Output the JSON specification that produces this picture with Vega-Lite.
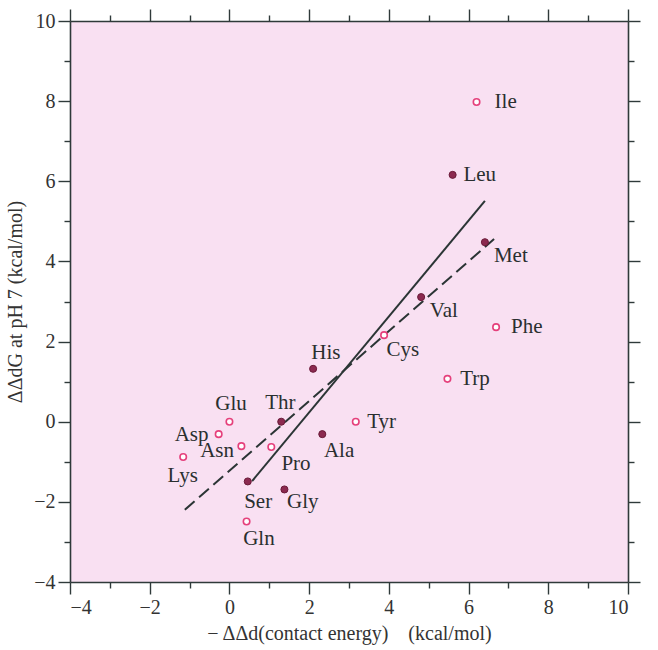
{
  "$schema": "https://vega.github.io/schema/vega-lite/v6.json",
  "autosize": {"type": "none"},
  "width": 558,
  "height": 561,
  "padding": {"left": 70, "top": 21, "right": 30, "bottom": 68},
  "background": "white",
  "config": {
    "view": {"fill": "#f9e0f2", "stroke": null},
    "axis": {
      "domainColor": "#2f3a3a",
      "tickColor": "#2f3a3a",
      "domainWidth": 1.6,
      "tickWidth": 1.4,
      "grid": false,
      "labelFont": "Liberation Serif",
      "labelFontSize": 20,
      "labelColor": "#333",
      "titleFont": "Liberation Serif",
      "titleFontSize": 20,
      "titleFontWeight": "normal",
      "titleColor": "#333"
    }
  },
  "datasets": {
    "pts": [
      {"aa": "Ile", "x": 6.2, "y": 7.98, "type": "open", "lx": 6.93, "ly": 7.98},
      {"aa": "Leu", "x": 5.6, "y": 6.16, "type": "filled", "lx": 6.28, "ly": 6.16},
      {"aa": "Met", "x": 6.41, "y": 4.48, "type": "filled", "lx": 7.06, "ly": 4.14},
      {"aa": "Val", "x": 4.81, "y": 3.11, "type": "filled", "lx": 5.38, "ly": 2.76},
      {"aa": "Phe", "x": 6.69, "y": 2.36, "type": "open", "lx": 7.46, "ly": 2.36},
      {"aa": "Cys", "x": 3.88, "y": 2.16, "type": "open", "lx": 4.35, "ly": 1.8},
      {"aa": "His", "x": 2.1, "y": 1.32, "type": "filled", "lx": 2.42, "ly": 1.71},
      {"aa": "Trp", "x": 5.47, "y": 1.07, "type": "open", "lx": 6.16, "ly": 1.07},
      {"aa": "Thr", "x": 1.3, "y": 0.0, "type": "filled", "lx": 1.28, "ly": 0.47},
      {"aa": "Tyr", "x": 3.17, "y": 0.0, "type": "open", "lx": 3.82, "ly": 0.0},
      {"aa": "Glu", "x": 0.0, "y": 0.0, "type": "open", "lx": 0.04, "ly": 0.44},
      {"aa": "Ala", "x": 2.33, "y": -0.31, "type": "filled", "lx": 2.75, "ly": -0.73},
      {"aa": "Asp", "x": -0.27, "y": -0.31, "type": "open", "lx": -0.95, "ly": -0.33},
      {"aa": "Asn", "x": 0.3, "y": -0.61, "type": "open", "lx": -0.31, "ly": -0.73},
      {"aa": "Pro", "x": 1.05, "y": -0.63, "type": "open", "lx": 1.67, "ly": -1.05},
      {"aa": "Lys", "x": -1.16, "y": -0.88, "type": "open", "lx": -1.17, "ly": -1.35},
      {"aa": "Ser", "x": 0.46, "y": -1.49, "type": "filled", "lx": 0.72, "ly": -2.0},
      {"aa": "Gly", "x": 1.38, "y": -1.69, "type": "filled", "lx": 1.84, "ly": -2.0},
      {"aa": "Gln", "x": 0.43, "y": -2.49, "type": "open", "lx": 0.74, "ly": -2.92}
    ],
    "solid": [
      {"x": 0.57, "y": -1.48},
      {"x": 6.41, "y": 5.51}
    ],
    "dashed": [
      {"x": -1.12, "y": -2.2},
      {"x": 6.64, "y": 4.56}
    ]
  },
  "layer": [
    {
      "data": {"name": "solid"},
      "mark": {"type": "line", "color": "#2b3535", "strokeWidth": 2},
      "encoding": {
        "x": {"field": "x", "type": "quantitative",
          "scale": {"domain": [-4, 10], "nice": false, "zero": false},
          "axis": {"orient": "bottom", "values": [-4, -2, 0, 2, 4, 6, 8, 10], "tickSize": 12, "labelPadding": 3,
            "title": "− ΔΔd(contact energy)\u00a0\u00a0\u00a0\u00a0(kcal/mol)", "titlePadding": 6}},
        "y": {"field": "y", "type": "quantitative",
          "scale": {"domain": [-4, 10], "nice": false, "zero": false},
          "axis": {"orient": "left", "values": [-4, -2, 0, 2, 4, 6, 8, 10], "tickSize": 12, "labelPadding": 3,
            "title": "ΔΔdG at pH 7 (kcal/mol)", "titlePadding": 8}}
      }
    },
    {
      "data": {"name": "dashed"},
      "mark": {"type": "line", "color": "#2b3535", "strokeWidth": 2, "strokeDash": [13, 6]},
      "encoding": {
        "x": {"field": "x", "type": "quantitative",
          "axis": {"orient": "top", "values": [-4, -2, 0, 2, 4, 6, 8, 10], "tickSize": 12, "labels": false, "title": null}},
        "y": {"field": "y", "type": "quantitative",
          "axis": {"orient": "right", "values": [-4, -2, 0, 2, 4, 6, 8, 10], "tickSize": 12, "labels": false, "title": null}}
      }
    },
    {
      "data": {"name": "pts"},
      "transform": [{"filter": "datum.type === 'open'"}],
      "mark": {"type": "point", "shape": "circle", "filled": false, "fill": "#ffffff", "stroke": "#e5407c", "strokeWidth": 1.6, "size": 42, "opacity": 1},
      "encoding": {
        "x": {"field": "x", "type": "quantitative",
          "axis": {"orient": "bottom", "values": [-3, -1, 1, 3, 5, 7, 9], "tickSize": 6, "labels": false, "domain": false, "title": null}},
        "y": {"field": "y", "type": "quantitative",
          "axis": {"orient": "left", "values": [-3, -1, 1, 3, 5, 7, 9], "tickSize": 6, "labels": false, "domain": false, "title": null}}
      }
    },
    {
      "data": {"name": "pts"},
      "transform": [{"filter": "datum.type === 'filled'"}],
      "mark": {"type": "point", "shape": "circle", "filled": true, "fill": "#8c2a50", "stroke": "#6a1a38", "strokeWidth": 1, "size": 50, "opacity": 1},
      "encoding": {
        "x": {"field": "x", "type": "quantitative",
          "axis": {"orient": "top", "values": [-3, -1, 1, 3, 5, 7, 9], "tickSize": 6, "labels": false, "domain": false, "title": null}},
        "y": {"field": "y", "type": "quantitative",
          "axis": {"orient": "right", "values": [-3, -1, 1, 3, 5, 7, 9], "tickSize": 6, "labels": false, "domain": false, "title": null}}
      }
    },
    {
      "data": {"name": "pts"},
      "mark": {"type": "text", "font": "Liberation Serif", "fontSize": 21, "color": "#2a2f2f", "align": "center", "baseline": "middle"},
      "encoding": {
        "x": {"field": "lx", "type": "quantitative", "axis": null},
        "y": {"field": "ly", "type": "quantitative", "axis": null},
        "text": {"field": "aa", "type": "nominal"}
      }
    }
  ],
  "resolve": {"axis": {"x": "independent", "y": "independent"}}
}
